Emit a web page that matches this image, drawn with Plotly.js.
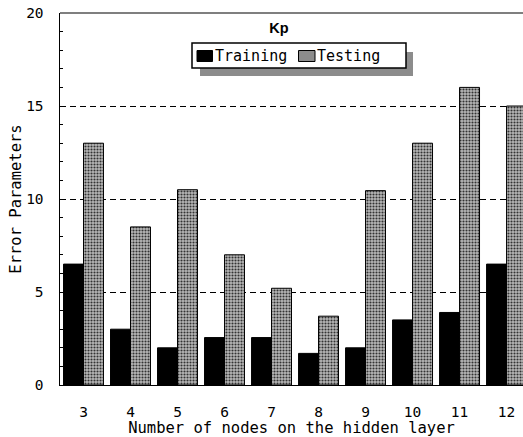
<!DOCTYPE html>
<html>
<head>
<meta charset="utf-8">
<script src="https://cdn.plot.ly/plotly-3.0.1.min.js"></script>
<style>html,body{margin:0;padding:0;background:#fff;}#chart{width:523px;height:437px;}</style>
</head>
<body>
<div id="chart"></div>
<script>
const nodes = ['3','4','5','6','7','8','9','10','11','12'];
const training = [6.5, 3.0, 2.0, 2.55, 2.55, 1.7, 2.0, 3.5, 3.9, 6.5];
const testing = [13.0, 8.5, 10.5, 7.0, 5.2, 3.7, 10.45, 13.0, 16.0, 15.0];
const seriesNames = ['Training', 'Testing'];

const mono = 'DejaVu Sans Mono, monospace';
const testGray = '#8c8c8c';

const traces = [
  {
    type: 'bar', name: seriesNames[0], x: nodes, y: training, showlegend: false,
    marker: {color: '#000000', line: {color: '#000000', width: 1}}
  },
  {
    type: 'bar', name: seriesNames[1], x: nodes, y: testing, showlegend: false,
    marker: {
      color: testGray,
      line: {color: '#000000', width: 1},
      pattern: {shape: '.', bgcolor: '#b8b8b8', fgcolor: '#333333', size: 3, solidity: 0.4}
    }
  }
];

// pixel -> paper helpers for the hand-drawn legend box (plot area: x 60..523, y 13..385)
const px = v => (v - 60) / 463;
const py = v => (385 - v) / 372;

const layout = {
  width: 523, height: 437,
  margin: {l: 60, r: 0, t: 13, b: 52},
  paper_bgcolor: '#ffffff', plot_bgcolor: '#ffffff',
  barmode: 'group', bargap: 0.15, bargroupgap: 0,
  font: {family: mono, size: 15, color: '#000'},
  title: {
    text: '<b>Kp</b>', xref: 'paper', yref: 'paper', x: 0.473, y: 0.96,
    xanchor: 'center', yanchor: 'middle',
    font: {family: 'Liberation Sans, Arial, sans-serif', size: 14.5, color: '#000'}
  },
  showlegend: false,
  xaxis: {
    type: 'category', range: [-0.5, 9.35],
    showline: true, linecolor: '#000', linewidth: 1, mirror: false,
    ticks: '', showgrid: false, zeroline: false,
    tickfont: {family: mono, size: 14.5, color: '#000'},
    ticklabelstandoff: 14,
    title: {text: 'Number of nodes on the hidden layer', font: {family: mono, size: 15.5, color: '#000'}, standoff: 4}
  },
  yaxis: {
    range: [0, 20], tickvals: [0, 5, 10, 15, 20],
    showline: true, linecolor: '#000', linewidth: 1.5, mirror: false,
    ticks: 'inside', ticklen: 4, tickcolor: '#000', tickwidth: 1,
    minor: {dtick: 1, tick0: 0, ticks: 'inside', ticklen: 3, tickcolor: '#000', showgrid: false},
    showgrid: true, gridcolor: '#000', gridwidth: 1, griddash: '6px,4px',
    zeroline: false,
    tickfont: {family: mono, size: 14.5, color: '#000'},
    ticklabelstandoff: 12,
    title: {text: 'Error Parameters', font: {family: mono, size: 15.5, color: '#000'}, standoff: 0}
  },
  shapes: [
    {type: 'line', xref: 'paper', yref: 'paper', x0: 0, x1: 1, y0: 1, y1: 1, line: {color: '#000', width: 1.2}},
    // legend drop shadow
    {type: 'rect', xref: 'paper', yref: 'paper', x0: px(200), x1: px(413), y0: py(76), y1: py(52),
     fillcolor: testGray, line: {width: 0}, layer: 'above'},
    // legend box
    {type: 'rect', xref: 'paper', yref: 'paper', x0: px(192), x1: px(406), y0: py(68), y1: py(43),
     fillcolor: '#ffffff', line: {color: '#000', width: 1.5}, layer: 'above'},
    // legend swatches
    {type: 'rect', xref: 'paper', yref: 'paper', x0: px(197), x1: px(212.5), y0: py(61.5), y1: py(50.5),
     fillcolor: '#000', line: {color: '#000', width: 1}, layer: 'above'},
    {type: 'rect', xref: 'paper', yref: 'paper', x0: px(298.5), x1: px(315), y0: py(61.5), y1: py(50.5),
     fillcolor: testGray, line: {color: '#000', width: 1}, layer: 'above'}
  ],
  annotations: [
    {xref: 'paper', yref: 'paper', x: px(213), y: py(56), xanchor: 'left', yanchor: 'middle',
     text: seriesNames[0], showarrow: false, font: {family: mono, size: 15, color: '#000'}},
    {xref: 'paper', yref: 'paper', x: px(315), y: py(56), xanchor: 'left', yanchor: 'middle',
     text: seriesNames[1], showarrow: false, font: {family: mono, size: 15, color: '#000'}}
  ]
};

Plotly.newPlot('chart', traces, layout, {displayModeBar: false, staticPlot: true});
</script>
</body>
</html>
